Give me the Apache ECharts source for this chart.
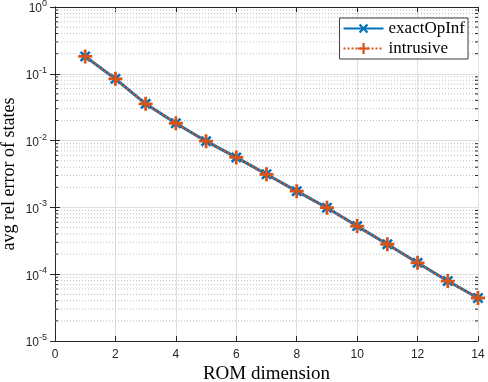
<!DOCTYPE html>
<html><head><meta charset="utf-8">
<script src="https://cdn.jsdelivr.net/npm/echarts@6/dist/echarts.min.js"></script>
<style>html,body{margin:0;padding:0;background:#fff}#c{width:488px;height:382px}</style>
</head><body><div id="c"></div>
<script>
const romDim = [1,2,3,4,5,6,7,8,9,10,11,12,13,14];
const exactOpInf = [0.182,0.084,0.0355,0.0182,0.0098,0.0056,0.00313,0.00175,0.00099,0.000525,0.000281,0.000148,0.000079,0.000044];
const intrusive  = [0.182,0.084,0.0355,0.0182,0.0098,0.0056,0.00313,0.00175,0.00099,0.000525,0.000281,0.000148,0.000079,0.000044];
const xTicks = [0,2,4,6,8,10,12,14];
const yDecades = [-5,-4,-3,-2,-1,0];
const minorVals = [];
for (let e=-5;e<0;e++){ for(let m=2;m<=9;m++){ minorVals.push(m*Math.pow(10,e)); } }

const AX = '#262626';
const GRID = '#dfdfdf';
const serif = 'Liberation Serif';
const sans = 'Liberation Sans';
const plusPath = 'path://M4,0H6V4H10V6H6V10H4V6H0V4H4Z';

const chart = echarts.init(document.getElementById('c'), null, {renderer:'canvas'});
chart.setOption({
  animation:false,
  backgroundColor:'#fff',
  grid:{left:55,right:10,top:7,bottom:41,containLabel:false,outerBoundsMode:'none'},
  legend:{
    orient:'vertical', right:20, top:18,
    itemWidth:40, itemHeight:14, itemGap:3,
    padding:[2,3,2,3],
    borderColor:'#3a3a3a', borderWidth:1, backgroundColor:'#fff',
    textStyle:{fontFamily:serif, fontSize:17, color:'#000'},
    data:['exactOpInf','intrusive']
  },
  xAxis:[{
    type:'value', min:xTicks[0], max:xTicks[xTicks.length-1], interval:2,
    name:'ROM dimension', nameLocation:'middle', nameGap:24, nameMoveOverlap:false,
    nameTextStyle:{fontFamily:serif, fontSize:19, color:'#000'},
    axisLine:{lineStyle:{color:AX,width:1}},
    axisTick:{inside:true,length:5,lineStyle:{color:AX}},
    axisLabel:{fontFamily:sans,fontSize:12,color:AX,margin:8},
    splitLine:{show:true,lineStyle:{color:GRID,width:1}}
  },{
    type:'value', position:'top', min:xTicks[0], max:xTicks[xTicks.length-1], interval:2,
    axisLine:{lineStyle:{color:AX,width:1}},
    axisTick:{inside:true,length:5,lineStyle:{color:AX}},
    axisLabel:{show:false}, splitLine:{show:false}
  }],
  yAxis:[{
    type:'log', logBase:10, min:Math.pow(10,yDecades[0]), max:Math.pow(10,yDecades[yDecades.length-1]),
    name:'avg rel error of states', nameLocation:'middle', nameGap:37, nameMoveOverlap:false,
    nameTextStyle:{fontFamily:serif, fontSize:18, color:'#000'},
    axisLine:{show:true,lineStyle:{color:AX,width:1}},
    axisTick:{inside:true,length:5,lineStyle:{color:AX}},
    axisLabel:{margin:8, color:AX,
      formatter:function(v){ return '{b|10}{s|'+Math.round(Math.log10(v))+'}'; },
      rich:{b:{fontFamily:sans,fontSize:12,color:AX,verticalAlign:'bottom'},s:{fontFamily:sans,fontSize:9,color:AX,padding:[0,0,7,0],verticalAlign:'bottom'}}
    },
    splitLine:{show:true,lineStyle:{color:GRID,width:1}}
  },{
    type:'log', logBase:10, position:'right', min:Math.pow(10,yDecades[0]), max:Math.pow(10,yDecades[yDecades.length-1]),
    axisLine:{show:true,lineStyle:{color:AX,width:1}},
    axisTick:{inside:true,length:5,lineStyle:{color:AX}},
    axisLabel:{show:false}, splitLine:{show:false}
  }],
  series:[{
    type:'custom', name:'minor', silent:true, z:1, clip:false,
    data:minorVals.map(v=>[xTicks[0],v]),
    renderItem:function(params,api){
      const v = api.value(1);
      const p0 = api.coord([xTicks[0], v]);
      const p1 = api.coord([xTicks[xTicks.length-1], v]);
      return {type:'group',children:[
        {type:'line',shape:{x1:p0[0],y1:p0[1],x2:p1[0],y2:p1[1]},style:{stroke:'#bdbdbd',lineWidth:1,lineDash:[1,2]}},
        {type:'line',shape:{x1:p0[0],y1:p0[1],x2:p0[0]+3,y2:p0[1]},style:{stroke:AX,lineWidth:1}},
        {type:'line',shape:{x1:p1[0]-3,y1:p1[1],x2:p1[0],y2:p1[1]},style:{stroke:AX,lineWidth:1}}
      ]};
    }
  },{
    type:'line', name:'exactOpInf', z:3,
    data:romDim.map((x,i)=>[x,exactOpInf[i]]),
    symbol:plusPath, symbolSize:13, symbolRotate:45, showAllSymbol:true,
    lineStyle:{color:'#0072BD',width:3},
    itemStyle:{color:'#0072BD'}
  },{
    type:'line', name:'intrusive', z:4,
    data:romDim.map((x,i)=>[x,intrusive[i]]),
    symbol:plusPath, symbolSize:14, showAllSymbol:true,
    lineStyle:{color:'#D95319',width:2.5,type:[2,2]},
    itemStyle:{color:'#D95319'}
  }]
});
</script></body></html>
